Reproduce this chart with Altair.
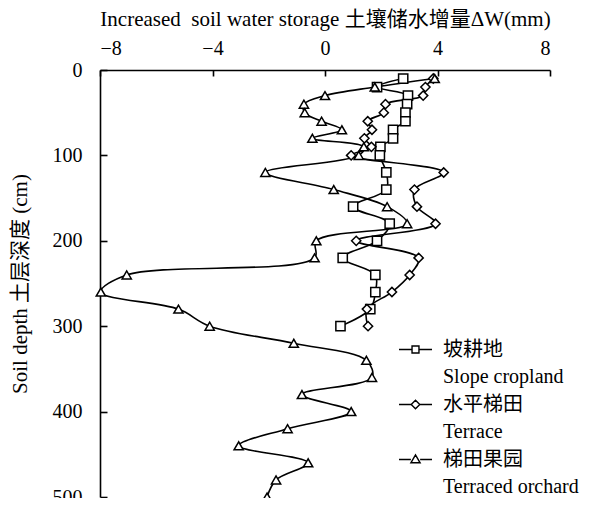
import altair as alt
import pandas as pd

# ---- data ----
depth_short = [10, 20, 30, 40, 50, 60, 70, 80, 90, 100,
               120, 140, 160, 180, 200, 220, 240, 260, 280, 300]
slope_cropland = [2.78, 1.85, 2.95, 2.92, 2.86, 2.86, 2.42, 2.42, 1.97, 1.95,
                  2.18, 2.18, 1.00, 2.30, 1.85, 0.63, 1.79, 1.79, 1.61, 0.55]
terrace = [3.85, 3.57, 3.49, 2.15, 2.09, 1.52, 1.67, 1.40, 1.65, 0.93,
           4.22, 3.18, 3.27, 3.93, 1.11, 3.33, 3.01, 2.38, 1.49, 1.53]
depth_long = depth_short + [320, 340, 360, 380, 400, 420, 440, 460, 480, 500]
terraced_orchard = [3.90, 1.77, 0.00, -0.75, -0.72, -0.12, 0.60, -0.45, 1.38, 1.20,
                    -2.12, 0.31, 2.21, 2.92, -0.31, -0.37, -7.05, -7.97, -5.21, -4.10,
                    -1.11, 1.47, 1.67, -0.82, 0.93, -1.33, -3.07, -0.60, -1.74, -2.06]

series_names = ["坡耕地|Slope cropland", "水平梯田|Terrace", "梯田果园|Terraced orchard"]
x_ticks = [-8, -4, 0, 4, 8]
y_ticks = [0, 100, 200, 300, 400, 500]

rows = []
for d, v in zip(depth_short, slope_cropland):
    rows.append({"series": series_names[0], "depth": d, "dw": v})
for d, v in zip(depth_short, terrace):
    rows.append({"series": series_names[1], "depth": d, "dw": v})
for d, v in zip(depth_long, terraced_orchard):
    rows.append({"series": series_names[2], "depth": d, "dw": v})
df = pd.DataFrame(rows)

FONT = "Liberation Serif, Noto Sans CJK SC"
xs = alt.Scale(domain=[-8, 8], nice=False, zero=False)
ys = alt.Scale(domain=[0, 500], reverse=True, nice=False, zero=False)

base = alt.Chart(df)

lines = base.mark_line(color="black", strokeWidth=1.6, interpolate="catmull-rom").encode(
    x=alt.X("dw:Q", scale=xs, axis=alt.Axis(
        orient="top", values=x_ticks, title="Increased\u00a0 soil water storage 土壤储水增量ΔW(mm)",
        tickSize=0, labelPadding=12, titlePadding=9, grid=False, domainWidth=1.6)),
    y=alt.Y("depth:Q", scale=ys, axis=alt.Axis(
        orient="left", values=y_ticks, title="Soil depth 土层深度 (cm)",
        tickSize=0, labelPadding=18, titlePadding=22, grid=False, domainWidth=1.6)),
    detail="series:N",
    order="depth:Q",
)

points = base.mark_point(filled=True, fill="white", stroke="black", strokeWidth=1.5,
                         size=85, opacity=1).encode(
    x=alt.X("dw:Q", scale=xs, axis=alt.Axis(
        orient="bottom", offset=-427, values=x_ticks, labels=False, domain=False,
        tickSize=6, tickWidth=1.6, title=None, grid=False)),
    y=alt.Y("depth:Q", scale=ys, axis=alt.Axis(
        orient="right", offset=-450, values=y_ticks, labels=False, domain=False,
        tickSize=7, tickWidth=1.6, title=None, grid=False)),
    shape=alt.Shape("series:N", scale=alt.Scale(domain=series_names,
                    range=["square", "diamond", "triangle-up"]), legend=None),
)

legend_paths = [
    "M-1,0H-0.21M0.21,0H1M-0.21,-0.21H0.21V0.21H-0.21Z",
    "M-1,0H-0.26M0.26,0H1M-0.26,0L0,-0.26L0.26,0L0,0.26Z",
    "M-1,0H-0.28M0.28,0H1M-0.28,0.2L0,-0.28L0.28,0.2Z",
]

legend_layer = base.transform_filter("datum.depth < 0").mark_point(
    filled=False, stroke="black", color="black", strokeWidth=1.4, size=1089).encode(
    x=alt.X("dw:Q", scale=xs, axis=None),
    y=alt.Y("depth:Q", scale=ys, axis=None),
    shape=alt.Shape("series:N", scale=alt.Scale(domain=series_names, range=legend_paths),
                    legend=alt.Legend(
                        title=None, orient="none", legendX=298, legendY=262,
                        labelExpr="split(datum.label, '|')",
                        labelFont=FONT, labelFontSize=20, labelLimit=400,
                        labelOffset=10, symbolSize=1089, symbolOpacity=1,
                        symbolStrokeColor="black",
                        symbolStrokeWidth=1.4, rowPadding=0, padding=0)),
)

chart = alt.layer(lines, points, legend_layer).resolve_scale(
    shape="independent"
).resolve_axis(
    x="independent", y="independent"
).resolve_legend(shape="independent").properties(
    width=450, height=427,
    autosize="none",
    padding={"left": 92, "top": 62, "right": 37, "bottom": 1},
    background="white",
).configure(
    style={"guide-label": {"lineHeight": 27}}
).configure_view(stroke=None).configure_axis(
    labelFont=FONT, titleFont=FONT, labelFontSize=20, titleFontSize=21,
    labelColor="black", titleColor="black", titleFontWeight="normal",
    domainColor="black", tickColor="black",
)

chart.save("out.html", embed_options={"renderer": "svg", "actions": False})
